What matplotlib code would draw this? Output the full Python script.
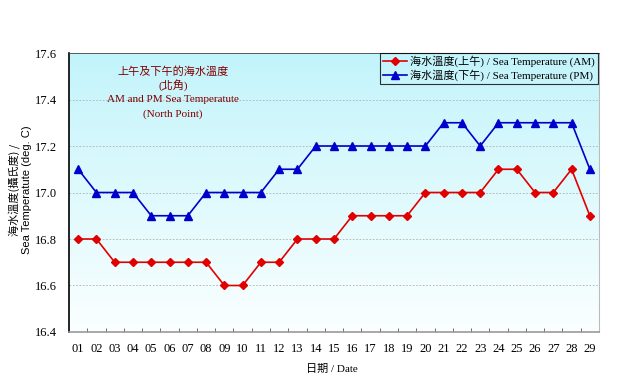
import numpy as np
import matplotlib
matplotlib.use("Agg")
import matplotlib.pyplot as plt
from matplotlib.colors import LinearSegmentedColormap

plt.rcParams['font.family'] = ['Liberation Serif', 'Noto Sans CJK TC', 'DejaVu Sans']

# data
days = ["01", "02", "03", "04", "05", "06", "07", "08", "09", "10",
        "11", "12", "13", "14", "15", "16", "17", "18", "19", "20",
        "21", "22", "23", "24", "25", "26", "27", "28", "29"]
temp_am = [16.8, 16.8, 16.7, 16.7, 16.7, 16.7, 16.7, 16.7, 16.6, 16.6,
           16.7, 16.7, 16.8, 16.8, 16.8, 16.9, 16.9, 16.9, 16.9, 17.0,
           17.0, 17.0, 17.0, 17.1, 17.1, 17.0, 17.0, 17.1, 16.9]
temp_pm = [17.1, 17.0, 17.0, 17.0, 16.9, 16.9, 16.9, 17.0, 17.0, 17.0,
           17.0, 17.1, 17.1, 17.2, 17.2, 17.2, 17.2, 17.2, 17.2, 17.2,
           17.3, 17.3, 17.2, 17.3, 17.3, 17.3, 17.3, 17.3, 17.1]
label_am = "海水溫度(上午) / Sea Temperature (AM)"
label_pm = "海水溫度(下午) / Sea Temperature (PM)"

x = np.arange(1, len(days) + 1)

fig = plt.figure(figsize=(6.35, 3.9), dpi=100)
ax = fig.add_axes([69 / 635, 1 - 332 / 390, 530 / 635, 279 / 390])

# background gradient (light cyan at top -> almost white at bottom)
cmap = LinearSegmentedColormap.from_list("bg", ["#fbffff", "#c2f4fb"])
grad = np.linspace(0, 1, 256).reshape(-1, 1)
ax.imshow(grad, cmap=cmap, aspect="auto", origin="lower",
          extent=[0, 1, 0, 1], transform=ax.transAxes, zorder=0)

ax.set_xlim(0.5, len(days) + 0.5)
ax.set_ylim(16.4, 17.6)
ax.set_yticks([16.4, 16.6, 16.8, 17.0, 17.2, 17.4, 17.6])
ax.set_yticklabels(["16.4", "16.6", "16.8", "17.0", "17.2", "17.4", "17.6"])
ax.set_xticks(x)
ax.set_xticklabels(days)
ax.set_xticks(np.arange(1.5, len(days), 1), minor=True)
ax.tick_params(axis="x", which="major", length=0, pad=8, labelsize=9)
ax.tick_params(axis="x", which="minor", direction="in", length=3, color="#555555")
ax.tick_params(axis="y", length=0, pad=8.5, labelsize=9)

for v in [16.6, 16.8, 17.0, 17.2, 17.4]:
    ax.axhline(v, color="#b0b0b0", lw=0.6, ls=(0, (2, 2)), zorder=1)

ax.spines["left"].set_color("black")
ax.spines["left"].set_linewidth(1.2)
ax.spines["bottom"].set_color("#999999")
ax.spines["bottom"].set_linewidth(1.2)
ax.spines["right"].set_color("#bbbbbb")
ax.spines["top"].set_color("#444444")
ax.spines["top"].set_linewidth(0.6)

ax.plot(x, temp_am, color="#e00000", marker="D", markersize=4.5, lw=1.2,
        label=label_am, zorder=3)
ax.plot(x, temp_pm, color="#0000cc", marker="^", markersize=5.5, lw=1.2,
        label=label_pm, zorder=3)

leg = ax.legend(loc="upper right", bbox_to_anchor=(0.998, 1.0), fontsize=8,
                frameon=True, fancybox=False, borderpad=0.25, labelspacing=0.15,
                handlelength=2.2, handletextpad=0.3, borderaxespad=0)
leg.get_frame().set_edgecolor("black")
leg.get_frame().set_facecolor("none")
leg.get_frame().set_linewidth(0.8)

title_color = "#800000"
ax.text(0.196, 0.932, "上午及下午的海水溫度", transform=ax.transAxes,
        ha="center", va="center", fontsize=8, color=title_color)
ax.text(0.196, 0.885, "(北角)", transform=ax.transAxes,
        ha="center", va="center", fontsize=8, color=title_color)
ax.text(0.196, 0.832, "AM and PM Sea Temperatute", transform=ax.transAxes,
        ha="center", va="center", fontsize=8, color=title_color)
ax.text(0.196, 0.782, "(North Point)", transform=ax.transAxes,
        ha="center", va="center", fontsize=8, color=title_color)

fig.text(14 / 635, 1 - 190 / 390, "海水溫度(攝氏度) /", rotation=90,
         ha="center", va="center", fontsize=8,
         family=["Noto Sans CJK TC", "DejaVu Sans"])
fig.text(27 / 635, 1 - 190 / 390, "Sea Temperatute (deg. C)", rotation=90,
         ha="center", va="center", fontsize=8, family=["Liberation Sans"])
fig.text(332 / 635, 1 - 369 / 390, "日期 / Date", ha="center", va="center",
         fontsize=8)

fig.savefig("out.png", dpi=100)
